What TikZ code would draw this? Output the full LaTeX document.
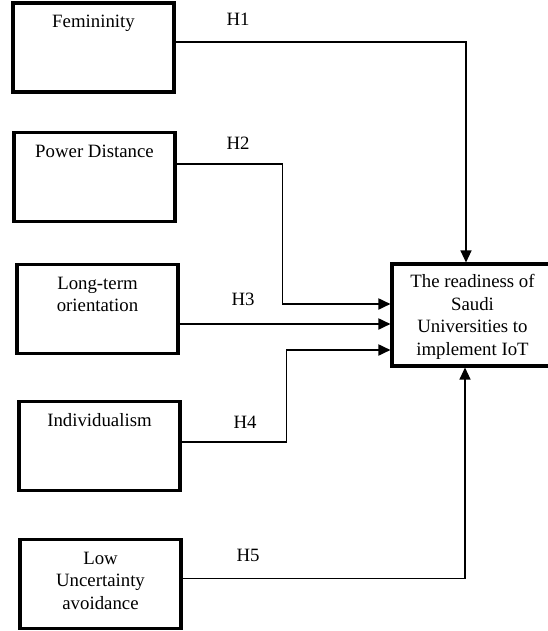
\documentclass[tikz,border=0pt]{standalone}
\usepackage{fontspec}
\setmainfont{Liberation Serif}
\usetikzlibrary{arrows.meta, positioning}

\begin{document}
\begin{tikzpicture}[x=1pt, y=-1pt,
    factor/.style={draw, line width=3.1pt, minimum width=161pt, align=center, inner sep=12pt,
        text height=13pt, text depth=52pt, font=\fontsize{18.8pt}{22.5pt}\selectfont},
    twolines/.style={text height=35.5pt, text depth=29.5pt},
    threelines/.style={text height=58pt, text depth=7pt},
    link/.style={-{Triangle[length=12pt, width=11pt]}, line width=1.8pt},
    hlabel/.style={font=\fontsize{18.8pt}{22.5pt}\selectfont}]
        \useasboundingbox (0,0) rectangle (547,631);
        \node[factor] (fem) at (93.5,47.5) {Femininity};
        \node[factor, below=37pt of fem, xshift=1pt] (pd) {Power Distance};
        \node[factor, below=40pt of pd, xshift=3pt] (lt) [twolines] {Long-term\\orientation};
        \node[factor, below=45pt of lt, xshift=2pt] (ind) {Individualism};
        \node[factor, below=46pt of ind, xshift=1pt] (lua) [threelines] {Low\\Uncertainty\\avoidance};
        \node[factor, text height=80.5pt, text depth=0pt, inner ysep=10.75pt] (rd) at (472.5,315)
            {The readiness of\\Saudi\\Universities to\\implement IoT};

        \node[hlabel] (h1lbl) at (238,19) {H1};
        \node[hlabel] (h2lbl) at (238,143) {H2};
        \node[hlabel] (h3lbl) at (243,299) {H3};
        \node[hlabel] (h4lbl) at (245,422) {H4};
        \node[hlabel] (h5lbl) at (248,555) {H5};

        \coordinate (h3) at ([yshift=-9pt]rd.west);
        \draw[link, line width=1.2pt] ([yshift=5.5pt]fem.east) -| ([xshift=-6.5pt]rd.north);
        \draw[link] ([yshift=12.5pt]pd.east) -- ++(106,0) |- ([yshift=11pt]rd.west);
        \draw[link] (lt.east |- h3) -- (h3);
        \draw[link] ([yshift=3.5pt]ind.east) -- ++(105,0) |- ([yshift=-35pt]rd.west);
        \draw[link, line width=1.2pt] ([yshift=5.5pt]lua.east) -| ([xshift=-7.5pt]rd.south);
    \end{tikzpicture}
\end{document}
